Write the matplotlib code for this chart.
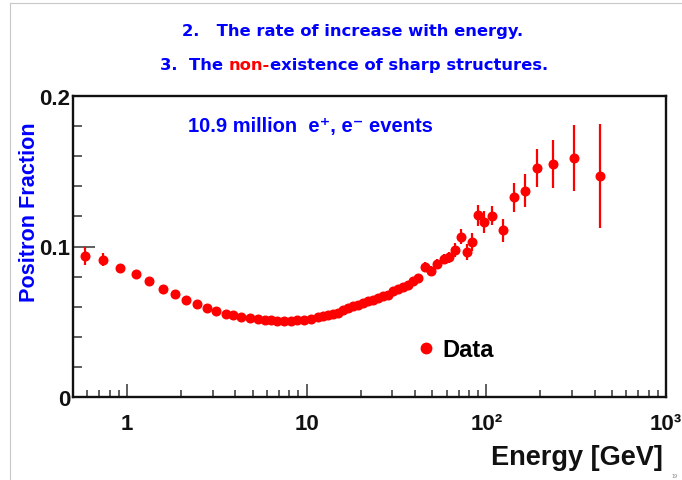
import matplotlib
matplotlib.use("Agg")
import matplotlib.pyplot as plt
from matplotlib.lines import Line2D
from matplotlib.ticker import FixedLocator, FixedFormatter, NullFormatter

# Positron fraction measurements
energy = [0.58, 0.733, 0.912, 1.12, 1.33, 1.59, 1.85, 2.14, 2.45, 2.78,
          3.14, 3.54, 3.88, 4.33, 4.83, 5.36, 5.84, 6.31, 6.87, 7.48,
          8.15, 8.87, 9.66, 10.5, 11.5, 12.3, 13.1, 14.0, 14.9, 15.9,
          16.9, 18.0, 19.2, 20.5, 21.9, 23.3, 24.9, 26.5, 28.3, 30.1,
          32.1, 34.3, 36.5, 39.0, 41.5, 45.4, 49.0, 53.0, 58.2, 62.1,
          66.8, 72.1, 77.6, 83.7, 89.3, 96.5, 108, 124, 143, 164,
          191, 235, 307, 429]
fraction = [0.0937, 0.0912, 0.0857, 0.0817, 0.0773, 0.0718, 0.0682, 0.0647, 0.0616, 0.0591,
            0.0571, 0.0554, 0.0545, 0.0534, 0.0525, 0.0518, 0.0512, 0.0510, 0.0507, 0.0505,
            0.0507, 0.0510, 0.0512, 0.0518, 0.0530, 0.0535, 0.0545, 0.0551, 0.0561, 0.0575,
            0.0591, 0.0605, 0.0611, 0.0625, 0.0635, 0.0645, 0.0658, 0.0668, 0.0678, 0.0704,
            0.0718, 0.0731, 0.0744, 0.0771, 0.0791, 0.0866, 0.0839, 0.0884, 0.0917, 0.0928,
            0.0975, 0.1064, 0.0961, 0.1032, 0.1207, 0.1163, 0.1205, 0.1108, 0.1327, 0.1371,
            0.1520, 0.1548, 0.1588, 0.1470]
error = [0.0060, 0.0042, 0.0020, 0.0018, 0.0017, 0.0016, 0.0015, 0.0015, 0.0015, 0.0015,
         0.0015, 0.0015, 0.0015, 0.0015, 0.0015, 0.0015, 0.0015, 0.0015, 0.0015, 0.0015,
         0.0015, 0.0015, 0.0015, 0.0016, 0.0016, 0.0016, 0.0017, 0.0017, 0.0018, 0.0018,
         0.0019, 0.0019, 0.0020, 0.0020, 0.0021, 0.0021, 0.0022, 0.0022, 0.0023, 0.0024,
         0.0025, 0.0026, 0.0027, 0.0028, 0.0029, 0.0030, 0.0031, 0.0032, 0.0033, 0.0035,
         0.0045, 0.0050, 0.0053, 0.0060, 0.0068, 0.0073, 0.0063, 0.0078, 0.0096, 0.0110,
         0.0126, 0.0157, 0.0218, 0.0345]

x_major = [1, 10, 100, 1000]
x_major_labels = ["1", "10", "10\u00b2", "10\u00b3"]
y_major = [0, 0.1, 0.2]
y_major_labels = ["0", "0.1", "0.2"]

BLUE = "#0000ff"
RED = "#ff0000"
SANS = ["Liberation Sans", "DejaVu Sans"]

W, H = 682, 481
fig = plt.figure(figsize=(W / 100, H / 100), dpi=100)
fig.patch.set_facecolor("white")

ax = fig.add_axes([73 / W, 1 - 398 / H, 593 / W, 301 / H])
ax.errorbar(energy, fraction, yerr=error, fmt="o", color=RED, ms=6.2,
            mec=RED, elinewidth=1.6, capsize=0, zorder=3)

ax.set_xscale("log")
ax.set_xlim(0.5, 1000)
ax.set_ylim(0, 0.2)

for sp in ax.spines.values():
    sp.set_linewidth(1.7)
    sp.set_color("#111111")

# x axis: decades labelled, 2..9 minor ticks, ticks on the bottom only
ax.xaxis.set_major_locator(FixedLocator(x_major))
ax.xaxis.set_major_formatter(FixedFormatter(x_major_labels))
x_minor = [m * 10.0 ** d for d in range(-1, 3) for m in range(2, 10)]
ax.xaxis.set_minor_locator(FixedLocator([v for v in x_minor if 0.5 < v < 1000]))
ax.xaxis.set_minor_formatter(NullFormatter())

ax.yaxis.set_major_locator(FixedLocator(y_major))
ax.yaxis.set_major_formatter(FixedFormatter(y_major_labels))
ax.yaxis.set_minor_locator(FixedLocator([0.02, 0.04, 0.06, 0.08, 0.12, 0.14, 0.16, 0.18]))

ax.tick_params(axis="x", which="major", direction="in", length=9.5, width=1.1,
               color="#333333", pad=11.5, top=False)
ax.tick_params(axis="x", which="minor", direction="in", length=5, width=1.1,
               color="#333333", top=False)
ax.tick_params(axis="y", which="major", direction="in", length=16, width=1.1,
               color="#333333", pad=2, right=False)
ax.tick_params(axis="y", which="minor", direction="in", length=6.5, width=1.1,
               color="#333333", right=False)
for lab in ax.get_xticklabels():
    lab.set_fontfamily(SANS)
    lab.set_fontweight("bold")
    lab.set_fontsize(16)
    lab.set_color("#111111")
for lab in ax.get_yticklabels():
    lab.set_fontfamily(SANS)
    lab.set_fontweight("bold")
    lab.set_fontsize(16)
    lab.set_color("#111111")

# axis titles
fig.text(29.5 / W, 1 - 212.5 / H, "Positron Fraction", rotation=90, ha="center",
         va="center", color=BLUE, fontsize=15.6, fontweight="bold", family=SANS)
fig.text(663 / W, 1 - 465 / H, "Energy [GeV]", ha="right", va="baseline",
         color="#111111", fontsize=19.5, fontweight="bold", family=SANS)

# in-plot annotation
fig.text(188 / W, 1 - 131.7 / H, "10.9 million  e\u207a, e\u207b events", ha="left",
         va="baseline", color=BLUE, fontsize=14.5, fontweight="bold", family=SANS)

# legend
handle = Line2D([], [], marker="o", color=RED, ls="none", ms=7.5)
ax.legend([handle], ["Data"], loc="center left", bbox_to_anchor=(0.5754, 0.158),
          frameon=False, borderpad=0, borderaxespad=0, handlelength=1.0,
          handletextpad=0.2, prop={"family": SANS, "weight": "bold", "size": 17})

# slide headings
renderer = fig.canvas.get_renderer()
head_kw = dict(fontsize=11.8, fontweight="bold", family=["DejaVu Sans"])


def text_width(s, **kw):
    t = fig.text(0, 0, s, **kw)
    w = t.get_window_extent(renderer).width
    t.remove()
    return w


fig.text(353 / W, 1 - 36 / H, "2.   The rate of increase with energy.", ha="center",
         va="baseline", color=BLUE, **head_kw)
w_non = text_width("non-", **head_kw)
gap = text_width("n n", **head_kw) - text_width("nn", **head_kw)
w_a = text_width("3.  The", **head_kw)
w_b = text_width("existence of sharp structures.", **head_kw)
x0 = 354 - (w_a + gap + w_non + w_b) / 2
fig.text(x0 / W, 1 - 70 / H, "3.  The", color=BLUE, ha="left", va="baseline", **head_kw)
fig.text((x0 + w_a + gap) / W, 1 - 70 / H, "non-", color=RED, ha="left",
         va="baseline", **head_kw)
fig.text((x0 + w_a + gap + w_non) / W, 1 - 70 / H, "existence of sharp structures.",
         color=BLUE, ha="left", va="baseline", **head_kw)

# slide edge and page number
fig.add_artist(Line2D([10 / W, 10 / W], [0, 1 - 4 / H], transform=fig.transFigure,
                      color="#c8c8c8", lw=0.8))
fig.add_artist(Line2D([10 / W, 1], [1 - 4 / H, 1 - 4 / H], transform=fig.transFigure,
                      color="#c8c8c8", lw=0.8))
fig.text(675 / W, 1 - 478 / H, "19", fontsize=3.5, color="#888888", ha="center",
         va="baseline")

fig.savefig("out.png", dpi=100, facecolor="white")
